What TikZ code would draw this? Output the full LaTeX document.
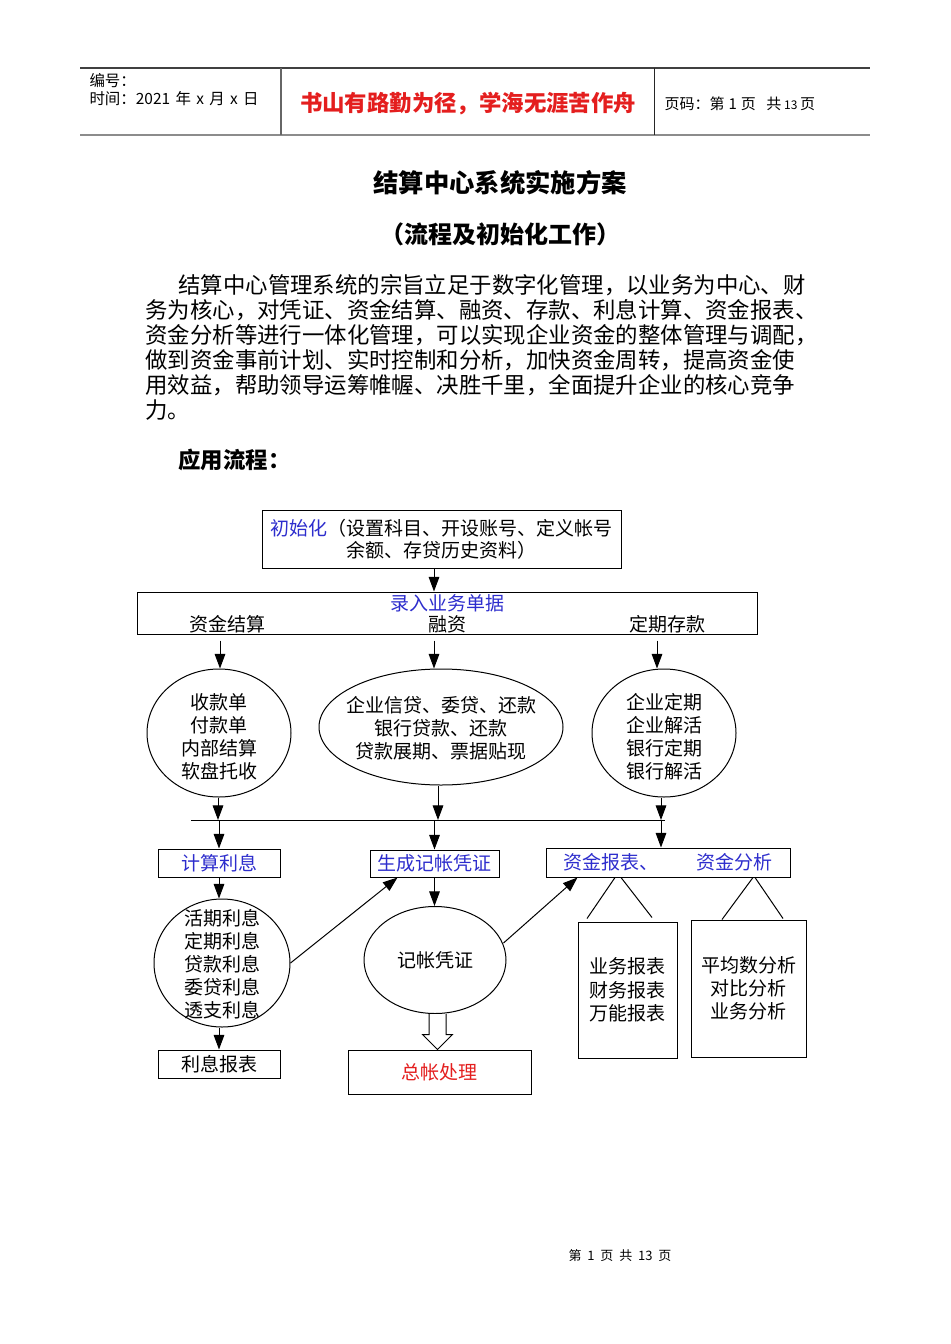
\documentclass[tikz,border=0pt]{standalone}
\usepackage{fontspec}
\setmainfont{Noto Sans CJK SC}
\usetikzlibrary{arrows.meta,shapes.geometric,calc}
\definecolor{blu}{RGB}{45,45,205}
\definecolor{rd}{RGB}{228,30,30}
\tikzset{every picture/.style={line width=0.75pt}}
\tikzset{
  lbl/.style={inner sep=0.75pt,align=center,font=\fontsize{14.25pt}{17.25pt}\selectfont},
  bx/.style={draw,lbl},
  oval/.style={draw,ellipse,inner sep=0pt},
  arr/.style={-{Triangle[length=11pt,width=8pt]}},
  para/.style={anchor=west,inner sep=0pt,font=\fontsize{16.8pt}{18pt}\selectfont}
}

\begin{document}
\begin{tikzpicture}[x=0.75pt,y=0.75pt,yscale=-1,xscale=1]

\fill[white] (0,0) rectangle (950,1344);
\useasboundingbox (0,0) rectangle (950,1344);

% header
\draw[black!75,line width=1pt] (80,68) -- (870,68);
\draw[black!45,line width=1.5pt] (80,135.5) -- (870,135.5);
\draw[black!60,line width=1pt] (281,68) -- (281,135);
\draw[black!85,line width=0.75pt] (654,68) -- (654,135);
\node[anchor=west,inner sep=0pt,font=\fontsize{11.6pt}{13pt}\selectfont] (bh) at (89,81) {编号：};
\node[anchor=west,inner sep=0pt,font=\fontsize{11.6pt}{13pt}\selectfont] (sj) at (89,99) {时间：2021\hspace{4pt}年\hspace{4pt}x\hspace{4pt}月\hspace{4pt}x\hspace{4pt}日};
\node[inner sep=0pt,text=rd,font=\fontsize{16.8pt}{18pt}\selectfont\bfseries] (motto) at (468,104) {书山有路勤为径，学海无涯苦作舟};
\node[anchor=west,inner sep=0pt,font=\fontsize{11.25pt}{13pt}\selectfont] (ym) at (664,104) {页码：第\hspace{3pt}1\hspace{3pt}页\hspace{8pt}共\hspace{2pt}{\small 13}\hspace{2pt}页};

% title
\node[inner sep=0pt,font=\fontsize{19pt}{21pt}\selectfont\bfseries] (title) at (500,183) {结算中心系统实施方案};
\node[inner sep=0pt,font=\fontsize{18pt}{20pt}\selectfont\bfseries] (subtitle) at (500,234) {（流程及初始化工作）};

% paragraph
\node[para] (p1) at (178,285) {结算中心管理系统的宗旨立足于数字化管理，以业务为中心、财};
\node[para] (p2) at (145,310) {务为核心，对凭证、资金结算、融资、存款、利息计算、资金报表、};
\node[para] (p3) at (145,335) {资金分析等进行一体化管理，可以实现企业资金的整体管理与调配，};
\node[para] (p4) at (145,360) {做到资金事前计划、实时控制和分析，加快资金周转，提高资金使};
\node[para] (p5) at (145,385) {用效益，帮助领导运筹帷幄、决胜千里，全面提升企业的核心竞争};
\node[para] (p6) at (145,410) {力。};
\node[para,font=\fontsize{16.8pt}{18pt}\selectfont\bfseries] (yylc) at (178,460) {应用流程：};

% flow chart
\node[bx,minimum width=269.25pt,minimum height=43.5pt,font=\fontsize{14.25pt}{16.5pt}\selectfont] (init) at (441.5,539)
  {\textcolor{blu}{初始化}（设置科目、开设账号、定义帐号\\余额、存贷历史资料）};
\node[draw,minimum width=465pt,minimum height=31.5pt] (lr) at (447,613) {};
\node[lbl,text=blu] (lrt) at (447,603) {录入业务单据};
\node[lbl] (zjjs) at (227,624) {资金结算};
\node[lbl] (rz) at (447,624) {融资};
\node[lbl] (dqck) at (667,624) {定期存款};

\node[oval,minimum width=108pt,minimum height=96pt,label={[lbl,yshift=-3pt]center:收款单\\付款单\\内部结算\\软盘托收}] (e1) at (219,733) {};
\node[oval,minimum width=183pt,minimum height=87pt,label={[lbl,yshift=-1pt]center:企业信贷、委贷、还款\\银行贷款、还款\\贷款展期、票据贴现}] (e2) at (441,727) {};
\node[oval,minimum width=108pt,minimum height=96pt,label={[lbl,yshift=-3pt]center:企业定期\\企业解活\\银行定期\\银行解活}] (e3) at (664,733) {};

\draw[arr] ($(lr.south -| e1.north)+(1,6)$) -- ($(e1.north)+(1,0)$);
\draw[arr] ($(init.south)+(-7.5,0)$) -- ($(lr.north)+(-13,0)$);
\draw[arr] ($(lr.south -| e2.north)+(-7,6)$) -- ($(e2.north)+(-7,0)$);
\draw[arr] ($(lr.south -| e3.north)+(-7,6)$) -- ($(e3.north)+(-7,0)$);

\coordinate (bl) at (191,820);
\coordinate (br) at (665,820);
\draw (bl) -- (br);
\draw[arr] ($(e1.south)+(-1,0)$) -- ($(e1.south |- bl)+(-1,0)$);
\draw[arr] ($(e2.south)+(-3,0)$) -- ($(e2.south |- bl)+(-3,0)$);
\draw[arr] ($(e3.south)+(-3,0)$) -- ($(e3.south |- bl)+(-3,0)$);

\node[bx,text=blu,minimum width=91.5pt,minimum height=21pt] (jslx) at (219,863) {计算利息};
\node[bx,text=blu,minimum width=96.75pt,minimum height=20.25pt] (scpz) at (434.5,863.5) {生成记帐凭证};
\node[bx,text=blu,minimum width=183pt,minimum height=21.75pt] (zjbb) at (668,862.5) {资金报表、\quad\quad 资金分析};
\draw[arr] (jslx.north |- bl) -- (jslx.north);
\draw[arr] (scpz.north |- bl) -- (scpz.north);
\draw[arr] ($(zjbb.north |- bl)+(-7,0)$) -- ($(zjbb.north)+(-7,0)$);

\node[oval,minimum width=102pt,minimum height=96pt,label={[lbl,yshift=-1pt]center:活期利息\\定期利息\\贷款利息\\委贷利息\\透支利息}] (lxe) at (222,963) {};
\node[bx,minimum width=91.5pt,minimum height=21pt] (lxbb) at (219,1064) {利息报表};
\draw[arr] (jslx.south) -- (jslx.south |- lxe.north);
\draw[arr] (lxbb.north |- lxe.south) -- (lxbb.north);
\draw[arr] (lxe.east) -- ($(scpz.south west)+(28,0)$);

\node[oval,minimum width=106.5pt,minimum height=80.25pt,label={[lbl]center:记帐凭证}] (jzpz) at (435,960) {};
\node[bx,text=rd,minimum width=137.25pt,minimum height=33pt] (zzcl) at (439.5,1072) {总帐处理};
\draw[arr] (scpz.south) -- (scpz.south |- jzpz.north);
\draw[arr] ($(jzpz.east)+(-3,-17)$) -- ($(zjbb.south west)+(32,0)$);

% hollow arrow
\coordinate (tip) at ($(zzcl.north)+(-2,0)$);
\draw[fill=white] ($(tip |- jzpz.south)+(-8.5,0)$) -- ($(tip)+(-8.5,-15)$) -- ($(tip)+(-15,-15)$) -- (tip)
  -- ($(tip)+(15,-15)$) -- ($(tip)+(8.5,-15)$) -- ($(tip |- jzpz.south)+(8.5,0)$);

\node[bx,minimum width=74.25pt,minimum height=102pt,font=\fontsize{14.25pt}{17.6pt}\selectfont] (ywbb) at (627.5,990) {业务报表\\财务报表\\万能报表};
\node[bx,minimum width=86.25pt,minimum height=102.75pt] (pjbb) at (748.5,988.5) {平均数分析\\对比分析\\业务分析};
\draw ($(zjbb.south)+(-53,0)$) -- ($(ywbb.north)+(-40.5,-3)$);
\draw ($(zjbb.south)+(-47,0)$) -- ($(ywbb.north)+(24.5,-4)$);
\draw ($(zjbb.south)+(85,0)$) -- ($(pjbb.north)+(-26.5,0)$);
\draw ($(zjbb.south)+(87,0)$) -- ($(pjbb.north)+(34.5,-1)$);

% footer
\node[inner sep=0pt,font=\fontsize{9.75pt}{11pt}\selectfont] (foot) at (620,1256) {第\ \ 1\ \ 页\ \ 共\ \ 13\ \ 页};

\end{tikzpicture}
\end{document}
